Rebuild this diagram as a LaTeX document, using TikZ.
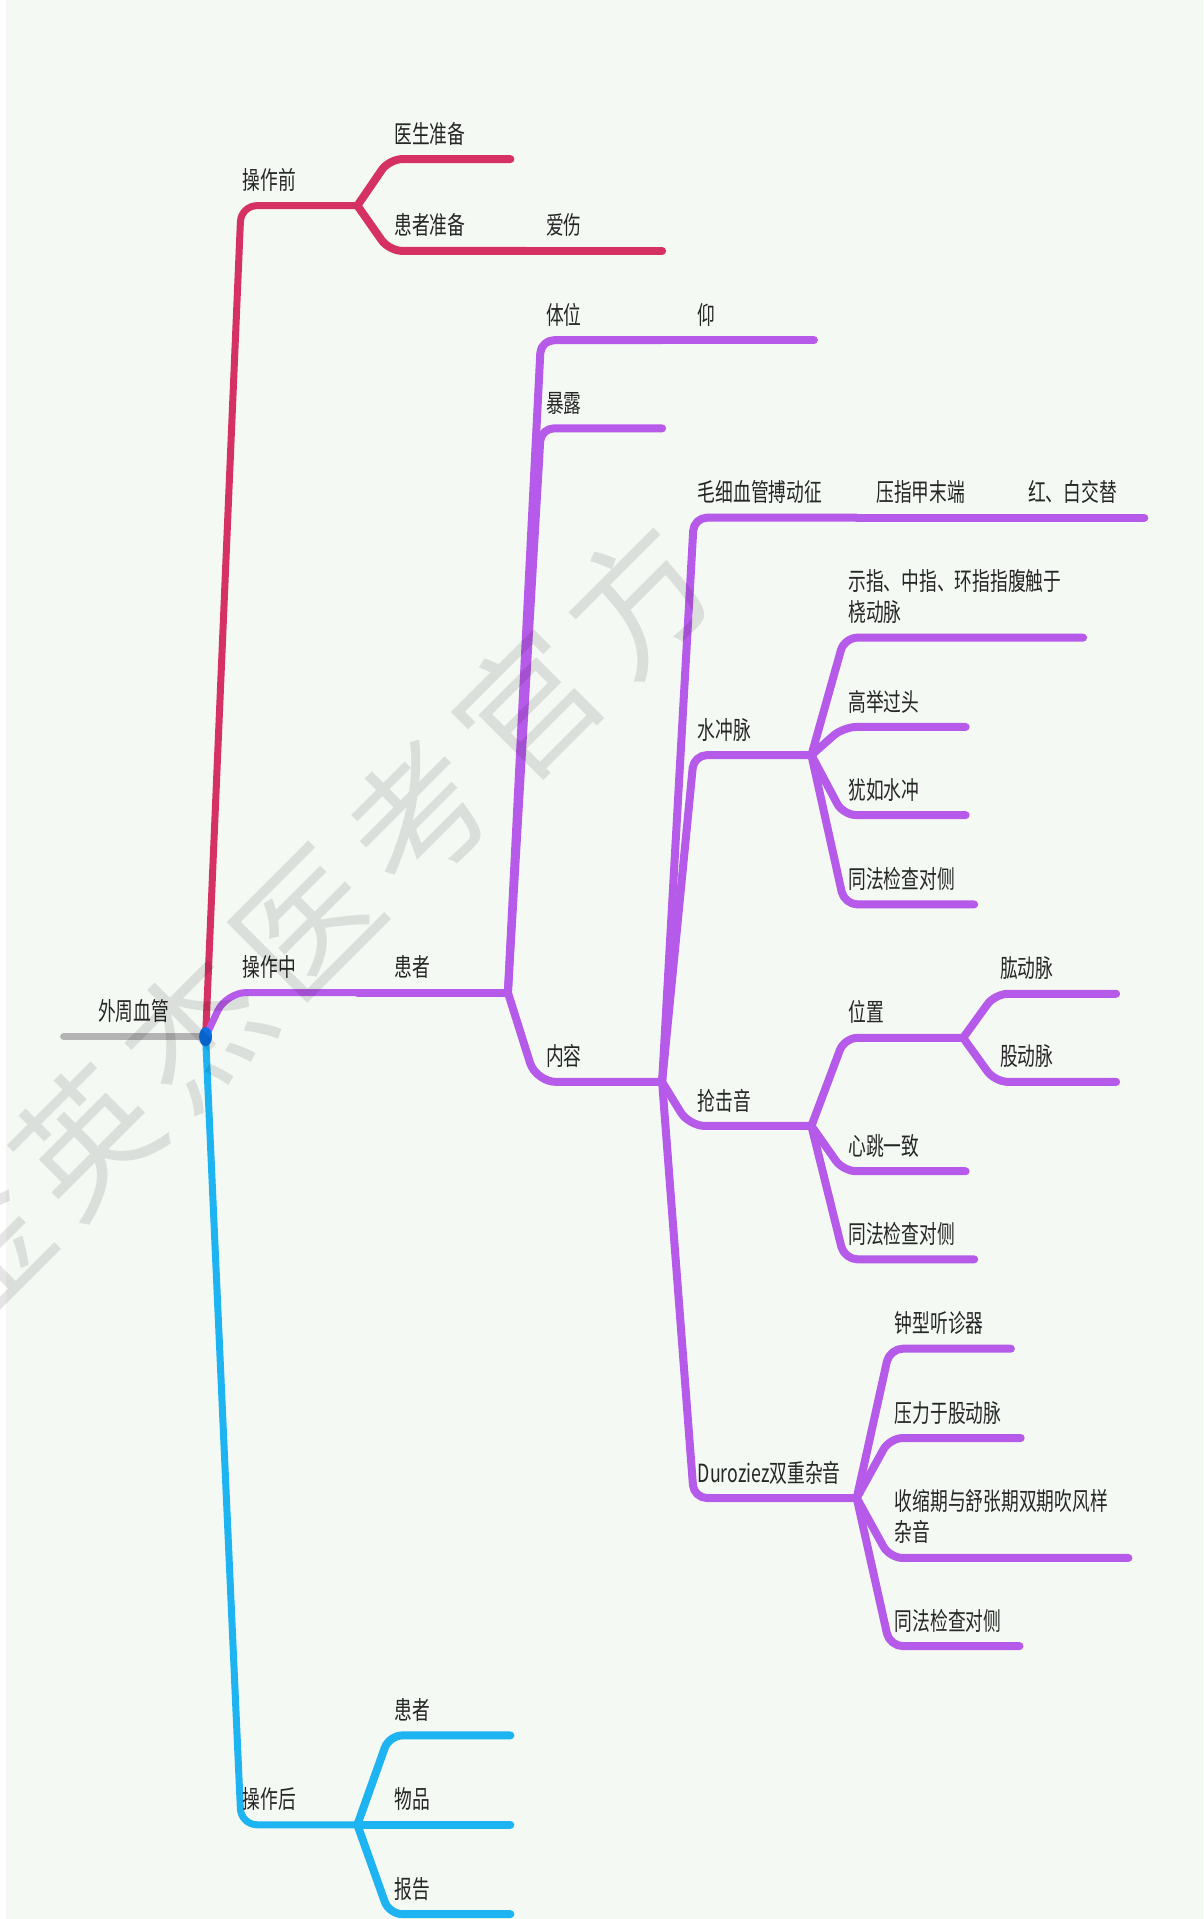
\documentclass[tikz,border=0pt]{standalone}
\usepackage{fontspec}
\newfontfamily\cjk[FakeStretch=0.71]{Noto Sans CJK SC}
\newfontfamily\wmfont{Noto Sans CJK SC}
\definecolor{bgc}{HTML}{F4F9F4}
\definecolor{redc}{HTML}{D63163}
\definecolor{purc}{HTML}{B65AE9}
\definecolor{bluc}{HTML}{1EB4F2}
\definecolor{dotc}{HTML}{0A6EE0}
\definecolor{rootc}{HTML}{B3B3B3}
\definecolor{txtc}{HTML}{262626}
\tikzset{
  lab/.style={anchor=base west, inner sep=0pt, text=txtc, align=left,
    font=\cjk\fontsize{25}{30.6}\selectfont},
  brmain/.style={line width=7pt, line cap=round, line join=round, rounded corners=#1},
  brmain/.default=16pt,
  brsub/.style={line width=8pt, line cap=round, line join=round, rounded corners=#1},
  brsub/.default=13pt,
  wm/.style={font=\wmfont\fontsize{138}{138}\selectfont, text=black, text opacity=0.1,
    rotate=45, inner sep=0pt},
}
\begin{document}
\begin{tikzpicture}[x=1.2238pt, y=-1.2238pt]
\fill[bgc] (0,0) rectangle (983,1568);
\fill[white] (0,0) rectangle (5,1568);
\useasboundingbox (0,0) rectangle (983,1568);

% root
\coordinate (dot) at (168,847);
\coordinate (rootL) at (52,847);
\draw[rootc, line width=7pt, line cap=round] (rootL) -- (dot);
\node[lab] (t-root) at (80,834) {外周血管};

% ---------- red: 操作前
\coordinate (r1) at (292,168);
\coordinate (r1a) at (417,130);
\coordinate (r1b) at (430,205);
\coordinate (r1c) at (541,205);
\draw[redc, brmain] (dot) -- (197,168) -- (r1);
\draw[redc, brsub] (r1) -- (318,130) -- (r1a);
\draw[redc, brsub] (r1) -- (318,205) -- (r1b);
\draw[redc, brsub] (r1b) -- (r1c);
\node[lab] (t-pre) at (198,155) {操作前};
\node[lab] (t-doc) at (322,117) {医生准备};
\node[lab] (t-pat) at (322,192) {患者准备};
\node[lab] (t-ai) at (446,192) {爱伤};

% ---------- blue: 操作后
\coordinate (b0) at (292,1491);
\coordinate (b1) at (417,1418);
\coordinate (b2) at (417,1491);
\coordinate (b3) at (417,1564);
\draw[bluc, brmain] (dot) -- (197,1491) -- (b0);
\draw[bluc, brsub] (b0) -- (318,1418) -- (b1);
\draw[bluc, brsub] (b0) -- (b2);
\draw[bluc, brsub] (b0) -- (318,1564) -- (b3);
\node[lab] (t-post) at (198,1478) {操作后};
\node[lab] (t-hz2) at (322,1405) {患者};
\node[lab] (t-wp) at (322,1478) {物品};
\node[lab] (t-bg) at (322,1551) {报告};

% ---------- purple: 操作中
\coordinate (p0) at (292,811);
\coordinate (p1) at (415,811);
\coordinate (p2) at (541,278);
\coordinate (p2b) at (665,278);
\coordinate (p3) at (541,350);
\coordinate (p4) at (541,884);
\draw[purc, brmain=20pt] (dot) -- (185,811) -- (p0);
\draw[purc, brsub] (p0) -- (p1);
\draw[purc, brsub] (p1) -- (442,278) -- (p2);
\draw[purc, brsub] (p2) -- (p2b);
\draw[purc, brsub] (p1) -- (442,350) -- (p3);
\draw[purc, brsub=20pt] (p1) -- (438,884) -- (p4);
\node[lab] (t-mid) at (198,798) {操作中};
\node[lab] (t-hz) at (322,798) {患者};
\node[lab] (t-tw) at (446,265) {体位};
\node[lab] (t-yang) at (570,265) {仰};
\node[lab] (t-bl) at (446,337) {暴露};
\node[lab] (t-nr) at (446,871) {内容};

% 内容 children
\coordinate (c1) at (700,423);
\coordinate (c1b) at (822,423);
\coordinate (c1c) at (935,423);
\coordinate (c2) at (663,617);
\coordinate (c3) at (663,920);
\coordinate (c4) at (700,1224);
\draw[purc, brsub] (p4) -- (567,423) -- (c1);
\draw[purc, brsub] (c1) -- (c1b);
\draw[purc, brsub] (c1b) -- (c1c);
\draw[purc, brsub] (p4) -- (567,617) -- (c2);
\draw[purc, brsub=16pt] (p4) -- (563,920) -- (c3);
\draw[purc, brsub] (p4) -- (567,1224) -- (c4);
\node[lab] (t-mx) at (570,410) {毛细血管搏动征};
\node[lab] (t-yz) at (716,410) {压指甲末端};
\node[lab] (t-hb) at (840,410) {红、白交替};
\node[lab] (t-sc) at (570,604) {水冲脉};
\node[lab] (t-qj) at (570,907) {抢击音};
\node[lab] (t-dz) at (570,1211) {Duroziez双重杂音};

% 水冲脉 children
\coordinate (d1) at (885,521);
\coordinate (d2) at (789,594);
\coordinate (d3) at (789,666);
\coordinate (d4) at (796,739);
\draw[purc, brsub] (c2) -- (690,521) -- (d1);
\draw[purc, brsub] (c2) -- (689,594) -- (d2);
\draw[purc, brsub] (c2) -- (689,666) -- (d3);
\draw[purc, brsub] (c2) -- (690,739) -- (d4);
\node[lab] (t-sz) at (693,507.5) {示指、中指、环指指腹触于\\桡动脉};
\node[lab] (t-gj) at (693,581) {高举过头};
\node[lab] (t-yr) at (693,653) {犹如水冲};
\node[lab] (t-tf1) at (693,726) {同法检查对侧};

% 抢击音 children
\coordinate (e1) at (787,848);
\coordinate (e2) at (789,957);
\coordinate (e3) at (796,1029);
\coordinate (f1) at (912,812);
\coordinate (f2) at (912,884);
\draw[purc, brsub] (c3) -- (690,848) -- (e1);
\draw[purc, brsub] (c3) -- (689,957) -- (e2);
\draw[purc, brsub] (c3) -- (690,1029) -- (e3);
\draw[purc, brsub] (e1) -- (813,812) -- (f1);
\draw[purc, brsub] (e1) -- (813,884) -- (f2);
\node[lab] (t-wz) at (693,835) {位置};
\node[lab] (t-xt) at (693,944) {心跳一致};
\node[lab] (t-tf2) at (693,1016) {同法检查对侧};
\node[lab] (t-gong) at (817,799) {肱动脉};
\node[lab] (t-gu) at (817,871) {股动脉};

% Duroziez children
\coordinate (g1) at (826,1102);
\coordinate (g2) at (834,1175);
\coordinate (g3) at (922,1273);
\coordinate (g4) at (833,1345);
\draw[purc, brsub] (c4) -- (727,1102) -- (g1);
\draw[purc, brsub] (c4) -- (727,1175) -- (g2);
\draw[purc, brsub] (c4) -- (727,1273) -- (g3);
\draw[purc, brsub] (c4) -- (727,1345) -- (g4);
\node[lab] (t-zx) at (731,1089) {钟型听诊器};
\node[lab] (t-yl) at (731,1162) {压力于股动脉};
\node[lab] (t-ss) at (731,1259.5) {收缩期与舒张期双期吹风样\\杂音};
\node[lab] (t-tf3) at (731,1332) {同法检查对侧};

% centre dot
\fill[dotc] (dot) ellipse [x radius=6.5pt, y radius=9.5pt];

% watermark
\foreach \ch [count=\i from 0] in {方,官,考,医,杰,英,金}{
  \node[wm] (wm\i) at ({522-90.4*\i},{489+88.4*\i}) {\ch};
}
\end{tikzpicture}
\end{document}
